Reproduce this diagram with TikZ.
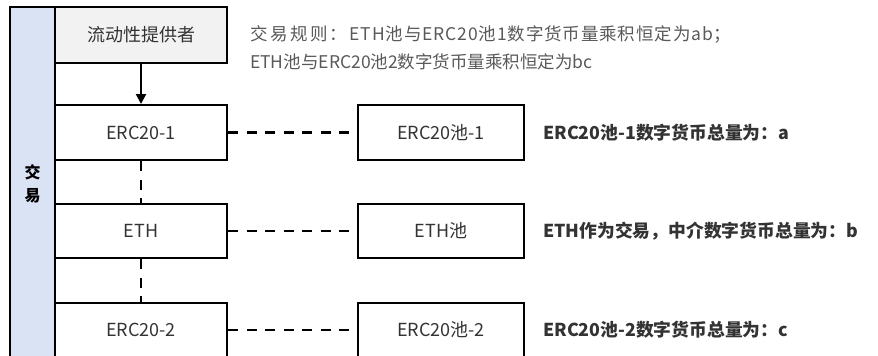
\documentclass[tikz,border=0pt]{standalone}
\usepackage{fontspec}
\setmainfont{Noto Sans CJK SC}
\usetikzlibrary{arrows.meta}
\definecolor{barblue}{HTML}{DAE3F3}
\definecolor{lpgray}{HTML}{F2F2F2}
\definecolor{txtdark}{HTML}{333333}
\definecolor{txtgray}{HTML}{595959}
\tikzset{
  box/.style={draw=black, line width=2pt, fill=white, inner sep=0pt, text=txtdark, font=\fontsize{18}{21}\selectfont},
  leftbox/.style={box, minimum width=172pt, minimum height=55pt},
  poolbox/.style={box, minimum width=166pt, minimum height=55pt},
  dashlink/.style={line width=2.5pt, dash pattern=on 10pt off 8.5pt},
  note/.style={anchor=west, inner sep=0pt, text=txtdark, font=\fontsize{17.8}{21}\selectfont\bfseries},
  rule/.style={anchor=west, inner sep=0pt, text=txtgray, font=\fontsize{17.5}{21}\selectfont},
}
\begin{document}
\begin{tikzpicture}[x=1pt, y=-1pt]
\useasboundingbox (0,0) rectangle (878,356);
\clip (0,0) rectangle (878,356);
% left bar
\node[draw=black, line width=1.6pt, fill=barblue, minimum width=45pt, minimum height=352pt, inner sep=0pt] (bar) at (32.5,183) {};
\node[font=\fontsize{16}{23}\selectfont\bfseries, align=center, inner sep=0pt] (barlbl) at (32.5,184) {交\\易};
% left boxes
\node[leftbox, fill=lpgray, minimum height=56pt] (lp) at (141,35) {流动性提供者};
\node[leftbox] (e1) at (141,132.5) {ERC20-1};
\node[leftbox, minimum height=54pt] (eth) at (141,231) {ETH};
\node[leftbox] (e2) at (141,330) {ERC20-2};
% pool boxes
\node[poolbox] (p1) at (441,132.5) {ERC20池-1};
\node[poolbox, minimum height=54pt] (pe) at (441,231) {ETH池};
\node[poolbox] (p2) at (441,330) {ERC20池-2};
% connectors
\draw[line width=2pt, -{Triangle[length=10pt, width=10pt]}] (lp.south) -- (e1.north);
\draw[dashlink] (e1.south) -- (eth.north);
\draw[dashlink] (eth.south) -- (e2.north);
\draw[dashlink] (e1.east) -- (p1.west);
\draw[dashlink] (eth.east) -- (pe.west);
\draw[dashlink] (e2.east) -- (p2.west);
% texts
\node[rule] (r1) at (250,34) {{\addfontfeature{LetterSpace=14}交易规则：}\hspace{2pt}{\addfontfeature{LetterSpace=5}ETH池与ERC20池1数字货币量乘积恒定为ab；}};
\node[rule] (r2) at (250,62) {ETH池与ERC20池2数字货币量乘积恒定为bc};
\node[note] (n1) at (543,133) {ERC20池-1数字货币总量为：a};
\node[note] (n2) at (543,231) {ETH作为交易，中介数字货币总量为：b};
\node[note] (n3) at (543,330) {ERC20池-2数字货币总量为：c};
\end{tikzpicture}
\end{document}
